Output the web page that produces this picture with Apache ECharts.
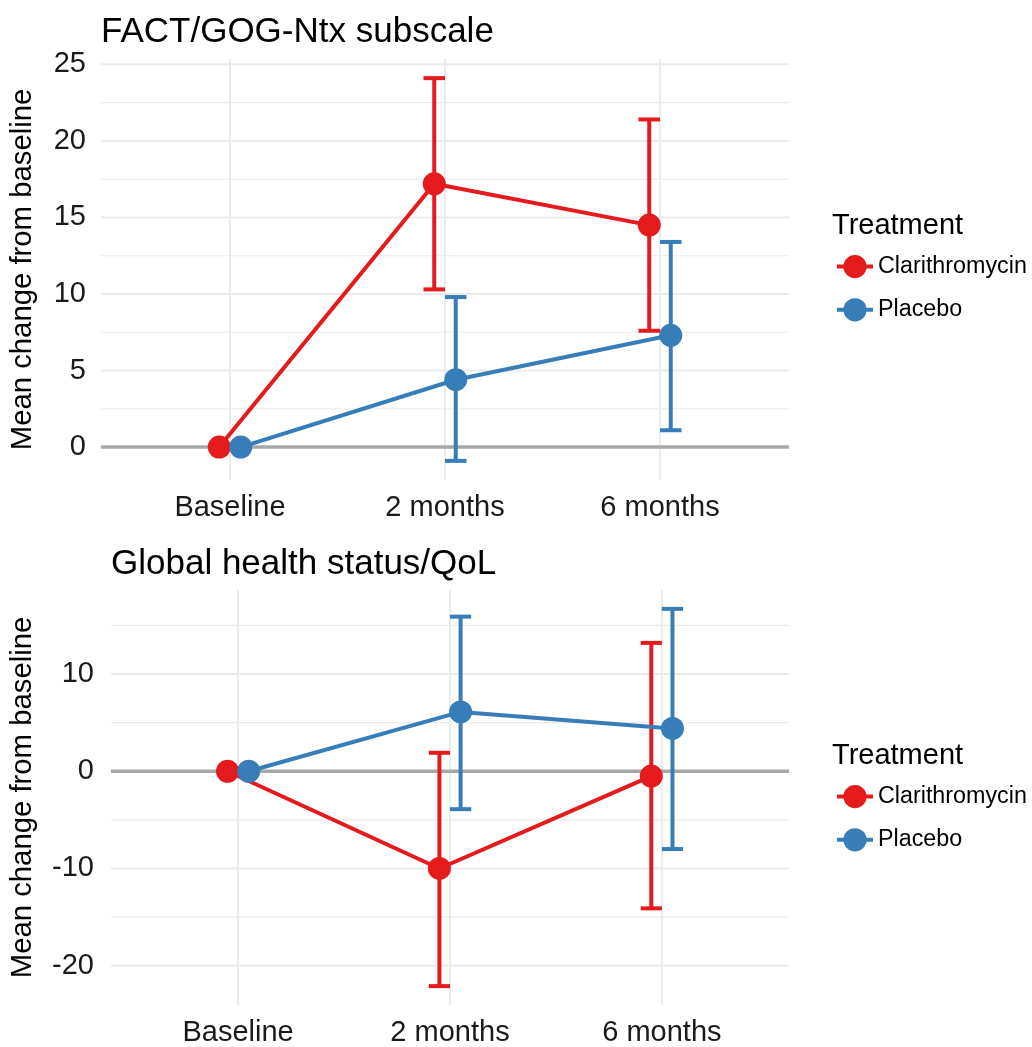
<!DOCTYPE html>
<html>
<head>
<meta charset="utf-8">
<script src="https://cdn.jsdelivr.net/npm/echarts@6/dist/echarts.min.js"></script>
<style>
html,body{margin:0;padding:0;background:#fff;}
#chart{width:1032px;height:1047px;}
</style>
</head>
<body>
<div id="chart"></div>
<script>
// ---------- data ----------
const categories = ['Baseline', '2 months', '6 months'];
const treatments = ['Clarithromycin', 'Placebo'];
const panelTitles = ['FACT/GOG-Ntx subscale', 'Global health status/QoL'];
const yTitle = 'Mean change from baseline';
const legendTitle = 'Treatment';

// FACT/GOG-Ntx subscale
const factClariMean = [0, 17.2, 14.5];
const factClariLow  = [null, 10.3, 7.6];
const factClariHigh = [null, 24.1, 21.4];
const factPlacMean  = [0, 4.4, 7.3];
const factPlacLow   = [null, -0.9, 1.1];
const factPlacHigh  = [null, 9.8, 13.4];
const factTicks = [0, 5, 10, 15, 20, 25];
const factMinorTicks = [2.5, 7.5, 12.5, 17.5, 22.5];

// Global health status/QoL
const qolClariMean = [0, -10.0, -0.5];
const qolClariLow  = [null, -22.1, -14.1];
const qolClariHigh = [null, 1.9, 13.2];
const qolPlacMean  = [0, 6.1, 4.4];
const qolPlacLow   = [null, -3.9, -8.0];
const qolPlacHigh  = [null, 15.9, 16.7];
const qolTicks = [-20, -10, 0, 10];
const qolMinorTicks = [-15, -5, 5, 15];

// ---------- styling ----------
const COLORS = ['#E41A1C', '#377EB8'];
const DODGE = 0.05;      // half of dodge width, in category units
const CAP_HALF = 0.05;   // errorbar width / 2, in category units
const FONT = '"Liberation Sans", Arial, sans-serif';
const GRID_COLOR = '#EBEBEB';

function extentOf(arrs) {
  let lo = Infinity, hi = -Infinity;
  arrs.forEach(a => a.forEach(v => { if (v != null) { lo = Math.min(lo, v); hi = Math.max(hi, v); } }));
  const pad = (hi - lo) * 0.05;
  return [lo - pad, hi + pad];
}

const panels = [
  {
    title: panelTitles[0],
    means: [factClariMean, factPlacMean], lows: [factClariLow, factPlacLow], highs: [factClariHigh, factPlacHigh],
    ticks: factTicks, minor: factMinorTicks,
    grid: {left: 101, right: 243, top: 59, height: 421},
    titlePos: {left: 101, top: 15}, legendTitleTop: 211, legendTop: 255, labelMargin: 15, nameGap: 64
  },
  {
    title: panelTitles[1],
    means: [qolClariMean, qolPlacMean], lows: [qolClariLow, qolPlacLow], highs: [qolClariHigh, qolPlacHigh],
    ticks: qolTicks, minor: qolMinorTicks,
    grid: {left: 111, right: 243, top: 590, height: 420},
    titlePos: {left: 111, top: 547}, legendTitleTop: 741, legendTop: 785, labelMargin: 17, nameGap: 74
  }
];

const option = {
  animation: false,
  backgroundColor: '#ffffff',
  textStyle: {fontFamily: FONT},
  title: [],
  legend: [],
  grid: [],
  xAxis: [],
  yAxis: [],
  series: []
};

function hLineItem(color, width) {
  return function (params, api) {
    const cs = params.coordSys;
    const y = api.coord([0, api.value(0)])[1];
    return {type: 'line', shape: {x1: cs.x, y1: y, x2: cs.x + cs.width, y2: y},
            style: {stroke: color, lineWidth: width}, silent: true};
  };
}
function vLineItem(color, width) {
  return function (params, api) {
    const cs = params.coordSys;
    const x = api.coord([api.value(0), 0])[0];
    return {type: 'line', shape: {x1: x, y1: cs.y, x2: x, y2: cs.y + cs.height},
            style: {stroke: color, lineWidth: width}, silent: true};
  };
}
function errorBarItem(color) {
  return function (params, api) {
    const x = api.value(0), lo = api.value(1), hi = api.value(2);
    const pLo = api.coord([x, lo]), pHi = api.coord([x, hi]);
    const l = api.coord([x - CAP_HALF, hi])[0], r = api.coord([x + CAP_HALF, hi])[0];
    const st = {stroke: color, lineWidth: 4};
    return {type: 'group', children: [
      {type: 'line', shape: {x1: pLo[0], y1: pLo[1], x2: pHi[0], y2: pHi[1]}, style: st},
      {type: 'line', shape: {x1: l, y1: pHi[1], x2: r, y2: pHi[1]}, style: st},
      {type: 'line', shape: {x1: l, y1: pLo[1], x2: r, y2: pLo[1]}, style: st}
    ]};
  };
}

panels.forEach((p, i) => {
  const ext = extentOf([].concat(p.means, p.lows, p.highs));
  option.grid.push(Object.assign({containLabel: false}, p.grid));
  option.title.push({text: p.title, left: p.titlePos.left, top: p.titlePos.top, padding: 0,
    textStyle: {fontFamily: FONT, fontSize: 35, fontWeight: 'normal', color: '#000'}});
  option.title.push({text: legendTitle, left: 832, top: p.legendTitleTop, padding: 0,
    textStyle: {fontFamily: FONT, fontSize: 29, fontWeight: 'normal', color: '#000'}});
  option.legend.push({
    data: treatments, orient: 'vertical', left: 835, top: p.legendTop, padding: 0,
    itemWidth: 36, itemHeight: 29, itemGap: 20, selectedMode: false,
    lineStyle: {width: 4},
    textStyle: {fontFamily: FONT, fontSize: 23.3, color: '#000'}
  });
  option.xAxis.push({
    type: 'value', gridIndex: i, min: -0.6, max: categories.length - 0.4,
    axisLine: {show: false}, axisTick: {show: false, customValues: categories.map((c, k) => k)},
    splitLine: {show: false},
    axisLabel: {customValues: categories.map((c, k) => k), formatter: v => categories[Math.round(v)],
      fontFamily: FONT, fontSize: 29, color: '#1a1a1a', margin: 13}
  });
  option.yAxis.push({
    type: 'value', gridIndex: i, min: ext[0], max: ext[1],
    axisLine: {show: false}, axisTick: {show: false, customValues: p.ticks},
    splitLine: {show: false},
    axisLabel: {customValues: p.ticks, fontFamily: FONT, fontSize: 29, color: '#1a1a1a', margin: p.labelMargin},
    name: yTitle, nameLocation: 'middle', nameGap: p.nameGap, nameRotate: 90,
    nameTextStyle: {fontFamily: FONT, fontSize: 29.3, color: '#000'}
  });
  // grid lines
  option.series.push({type: 'custom', xAxisIndex: i, yAxisIndex: i, z: 0, silent: true,
    data: p.minor.map(v => [v]), renderItem: hLineItem(GRID_COLOR, 1.1), encode: {y: 0}});
  option.series.push({type: 'custom', xAxisIndex: i, yAxisIndex: i, z: 0, silent: true,
    data: p.ticks.map(v => [v]), renderItem: hLineItem(GRID_COLOR, 2), encode: {y: 0}});
  option.series.push({type: 'custom', xAxisIndex: i, yAxisIndex: i, z: 0, silent: true,
    data: categories.map((c, k) => [k]), renderItem: vLineItem(GRID_COLOR, 2), encode: {x: 0}});
  // zero reference line
  option.series.push({type: 'custom', xAxisIndex: i, yAxisIndex: i, z: 1, silent: true,
    data: [[0]], renderItem: hLineItem('#A8A8A8', 3.5), encode: {y: 0}});
  // data
  treatments.forEach((t, s) => {
    const off = s === 0 ? -DODGE : DODGE;
    const ebData = [];
    categories.forEach((c, k) => {
      if (p.lows[s][k] != null) ebData.push([k + off, p.lows[s][k], p.highs[s][k]]);
    });
    option.series.push({type: 'line', name: t, xAxisIndex: i, yAxisIndex: i, z: 2 + s,
      data: categories.map((c, k) => [k + off, p.means[s][k]]),
      symbol: 'circle', symbolSize: 23, showSymbol: true,
      lineStyle: {color: COLORS[s], width: 4}, itemStyle: {color: COLORS[s]},
      emphasis: {disabled: true}});
    option.series.push({type: 'custom', xAxisIndex: i, yAxisIndex: i, z: 2 + s, silent: true,
      data: ebData, renderItem: errorBarItem(COLORS[s]), encode: {x: 0, y: [1, 2]}});
  });
});

const chart = echarts.init(document.getElementById('chart'), null, {renderer: 'canvas'});
chart.setOption(option);
</script>
</body>
</html>
